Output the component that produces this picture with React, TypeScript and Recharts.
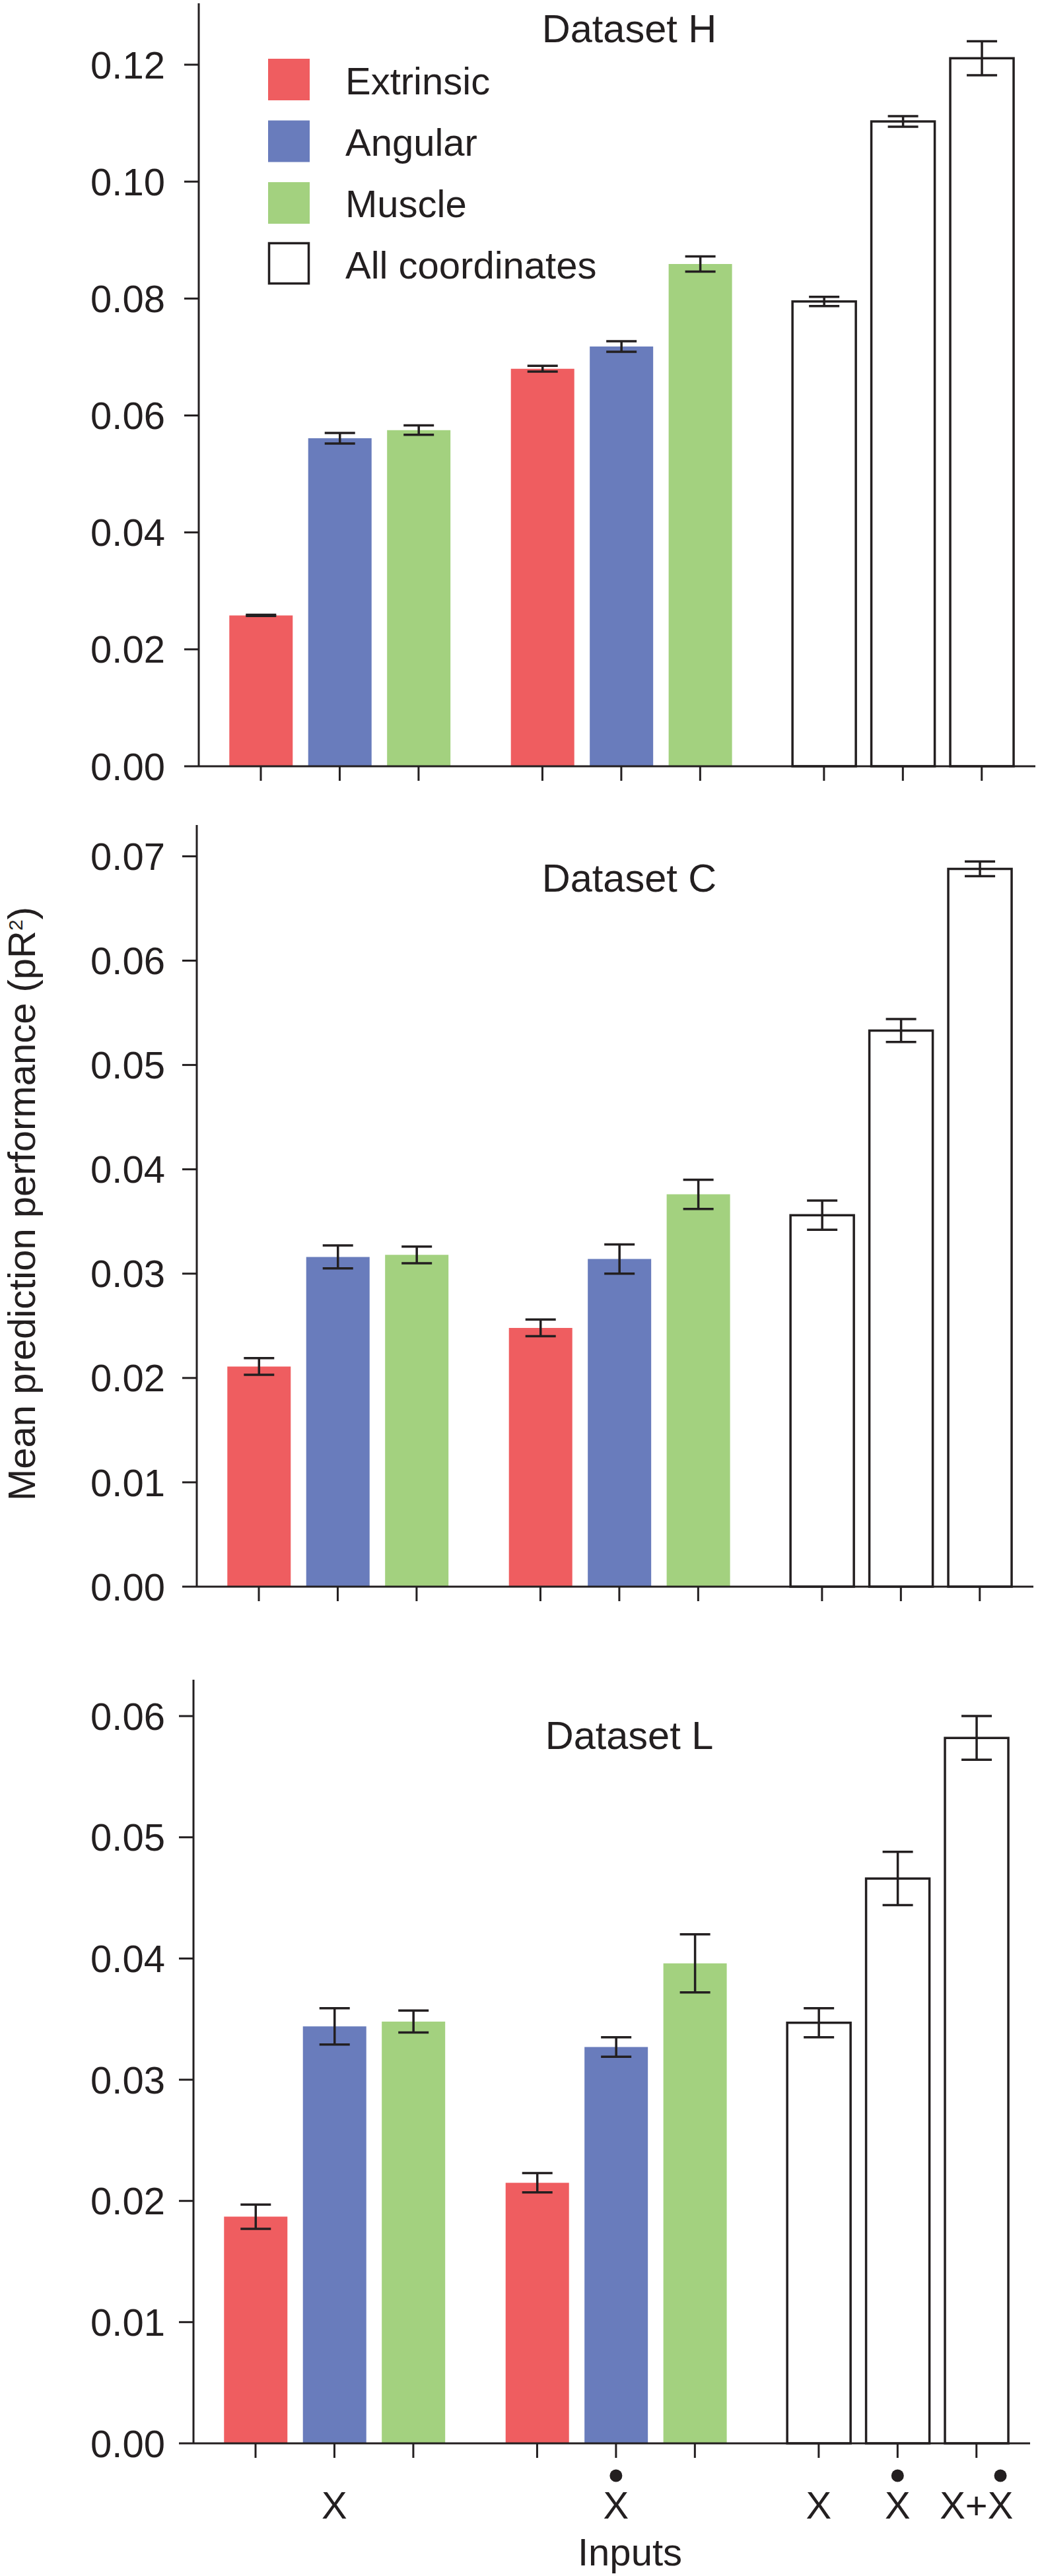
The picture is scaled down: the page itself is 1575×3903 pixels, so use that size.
import React from 'react'
import { BarChart, Bar, XAxis, YAxis, ErrorBar, Cell } from 'recharts'

// what the bars are
const coordNames = ['Extrinsic', 'Angular', 'Muscle', 'All coordinates']
const coordColors = ['#ef5d60', '#697cbc', '#a3d17f', '#ffffff']
const barCoord = [0, 1, 2, 0, 1, 2, 3, 3, 3]
const barGroup = [0, 0, 0, 1, 1, 1, 2, 2, 2]
const tickLabels = ['', 'X', '', '', '\u1E8A', '', 'X', '\u1E8A', 'X+\u1E8A']

const datasets = ['Dataset H', 'Dataset C', 'Dataset L']

// mean pR2 and its error, one entry per bar
const meanH = [0.0258, 0.0561, 0.0575, 0.068, 0.0718, 0.0859, 0.0795, 0.1103, 0.1211]
const errH = [0.0001, 0.0009, 0.0008, 0.0005, 0.0009, 0.0013, 0.0008, 0.0009, 0.0029]
const meanC = [0.0211, 0.0316, 0.0318, 0.0248, 0.0314, 0.0376, 0.0356, 0.0533, 0.0688]
const errC = [0.0008, 0.0011, 0.0008, 0.0008, 0.0014, 0.0014, 0.0014, 0.0011, 0.0007]
const meanL = [0.0187, 0.0344, 0.0348, 0.0215, 0.0327, 0.0396, 0.0347, 0.0466, 0.0582]
const errL = [0.001, 0.0015, 0.0009, 0.0008, 0.0008, 0.0024, 0.0012, 0.0022, 0.0018]

const ticksH = [0, 0.02, 0.04, 0.06, 0.08, 0.1, 0.12]
const ticksC = [0, 0.01, 0.02, 0.03, 0.04, 0.05, 0.06, 0.07]
const ticksL = [0, 0.01, 0.02, 0.03, 0.04, 0.05, 0.06]

const FONT = '"Liberation Sans", Arial, Helvetica, sans-serif'
const INK = '#231f20'
const FS = 58
const GROUP_STEP = 3.57
const X_DOMAIN = [-0.787, 9.82]

const xs = barGroup.map((g, i) => g * GROUP_STEP + (i % 3))

const panels = [
  { title: datasets[0], mean: meanH, err: errH, ticks: ticksH, yMax: 0.1305, top: 5, base: 1161, axisX: 301, titleY: 64 },
  { title: datasets[1], mean: meanC, err: errC, ticks: ticksC, yMax: 0.073, top: 1250, base: 2404, axisX: 298, titleY: 1351 },
  { title: datasets[2], mean: meanL, err: errL, ticks: ticksL, yMax: 0.063, top: 2545, base: 3702, axisX: 293, titleY: 2650 },
]

const glyphW: Record<string, number> = { X: 0.667, '\u1E8A': 0.667, '+': 0.584 }

const InputTick = (props: any) => {
  const { x, y, payload, show } = props
  if (!show) return null
  const i = xs.findIndex((v) => Math.abs(v - payload.value) < 1e-6)
  const label = tickLabels[i] || ''
  if (!label) return null
  const chars = Array.from(label)
  const total = chars.reduce((s, c) => s + (glyphW[c] ?? 0.6), 0) * FS
  let cursor = x - total / 2
  const dots: number[] = []
  chars.forEach((c) => {
    const w = (glyphW[c] ?? 0.6) * FS
    if (c === '\u1E8A') dots.push(cursor + w / 2)
    cursor += w
  })
  return (
    <g>
      <text x={x} y={y + 92} textAnchor="middle" fontSize={FS} fontFamily={FONT} fill={INK}>
        {label.replace(/\u1E8A/g, 'X')}
      </text>
      {dots.map((cx, k) => (
        <circle key={k} cx={cx} cy={y + 27} r={9.5} fill={INK} />
      ))}
    </g>
  )
}

const Panel = ({ p, last }: { p: any; last: boolean }) => {
  const shift = p.axisX - 301
  const axisH = last ? 160 : 40
  const data = p.mean.map((v: number, i: number) => ({ x: xs[i], v, e: p.err[i], c: barCoord[i] }))
  return (
    <div style={{ position: 'absolute', left: shift, top: p.top }}>
      <BarChart width={1575} height={p.base - p.top + axisH} data={data} margin={{ top: 0, right: 7, bottom: 0, left: 0 }}>
        <XAxis
          type="number"
          dataKey="x"
          domain={X_DOMAIN}
          ticks={xs}
          interval={0}
          height={axisH}
          tickSize={22}
          tickMargin={0}
          stroke={INK}
          axisLine={{ stroke: INK, strokeWidth: 3 }}
          tickLine={{ stroke: INK, strokeWidth: 3 }}
          tick={<InputTick show={last} />}
        />
        <YAxis
          type="number"
          domain={[0, p.yMax]}
          ticks={p.ticks}
          interval={0}
          width={301}
          tickSize={22}
          tickMargin={29 + shift}
          stroke={INK}
          axisLine={{ stroke: INK, strokeWidth: 3 }}
          tickLine={{ stroke: INK, strokeWidth: 3 }}
          tick={{ fontSize: FS, fill: INK, fontFamily: FONT }}
          tickFormatter={(v) => v.toFixed(2)}
        />
        <Bar dataKey="v" barSize={96} isAnimationActive={false}>
          {data.map((d: any, i: number) => (
            <Cell key={i} fill={coordColors[d.c]} stroke={d.c === 3 ? INK : 'none'} strokeWidth={3.5} />
          ))}
          <ErrorBar dataKey="e" width={23} stroke={INK} strokeWidth={3.5} />
        </Bar>
      </BarChart>
    </div>
  )
}

const App = () => {
  return (
    <div style={{ position: 'absolute', left: 0, top: 0, width: 1575, height: 3903, background: '#fff', fontFamily: FONT }}>
      {panels.map((p, k) => (
        <Panel key={p.title} p={p} last={k === panels.length - 1} />
      ))}
      <svg width={1575} height={3903} style={{ position: 'absolute', left: 0, top: 0, pointerEvents: 'none' }}>
        {panels.map((p) => (
          <text key={p.title} x={953} y={p.titleY} textAnchor="middle" fontSize={59.5} fontFamily={FONT} fill={INK}>
            {p.title}
          </text>
        ))}
        {coordNames.map((name, k) => (
          <g key={name}>
            <rect
              x={k === 3 ? 407.5 : 406}
              y={(k === 3 ? 368.5 : 89) + (k === 3 ? 0 : k * 93.5)}
              width={k === 3 ? 60 : 63}
              height={k === 3 ? 61 : 63}
              fill={coordColors[k]}
              stroke={k === 3 ? INK : 'none'}
              strokeWidth={3.5}
            />
            <text x={523} y={143 + k * 93} fontSize={FS} fontFamily={FONT} fill={INK}>
              {name}
            </text>
          </g>
        ))}
        <text transform="translate(53,1824) rotate(-90)" textAnchor="middle" fontSize={FS} fontFamily={FONT} fill={INK}>
          Mean prediction performance (pR
          <tspan fontSize={30} dy={-19}>2</tspan>
          <tspan dy={19}>)</tspan>
        </text>
        <text x={954} y={3887} textAnchor="middle" fontSize={FS} fontFamily={FONT} fill={INK}>
          Inputs
        </text>
      </svg>
    </div>
  )
}

export default App
